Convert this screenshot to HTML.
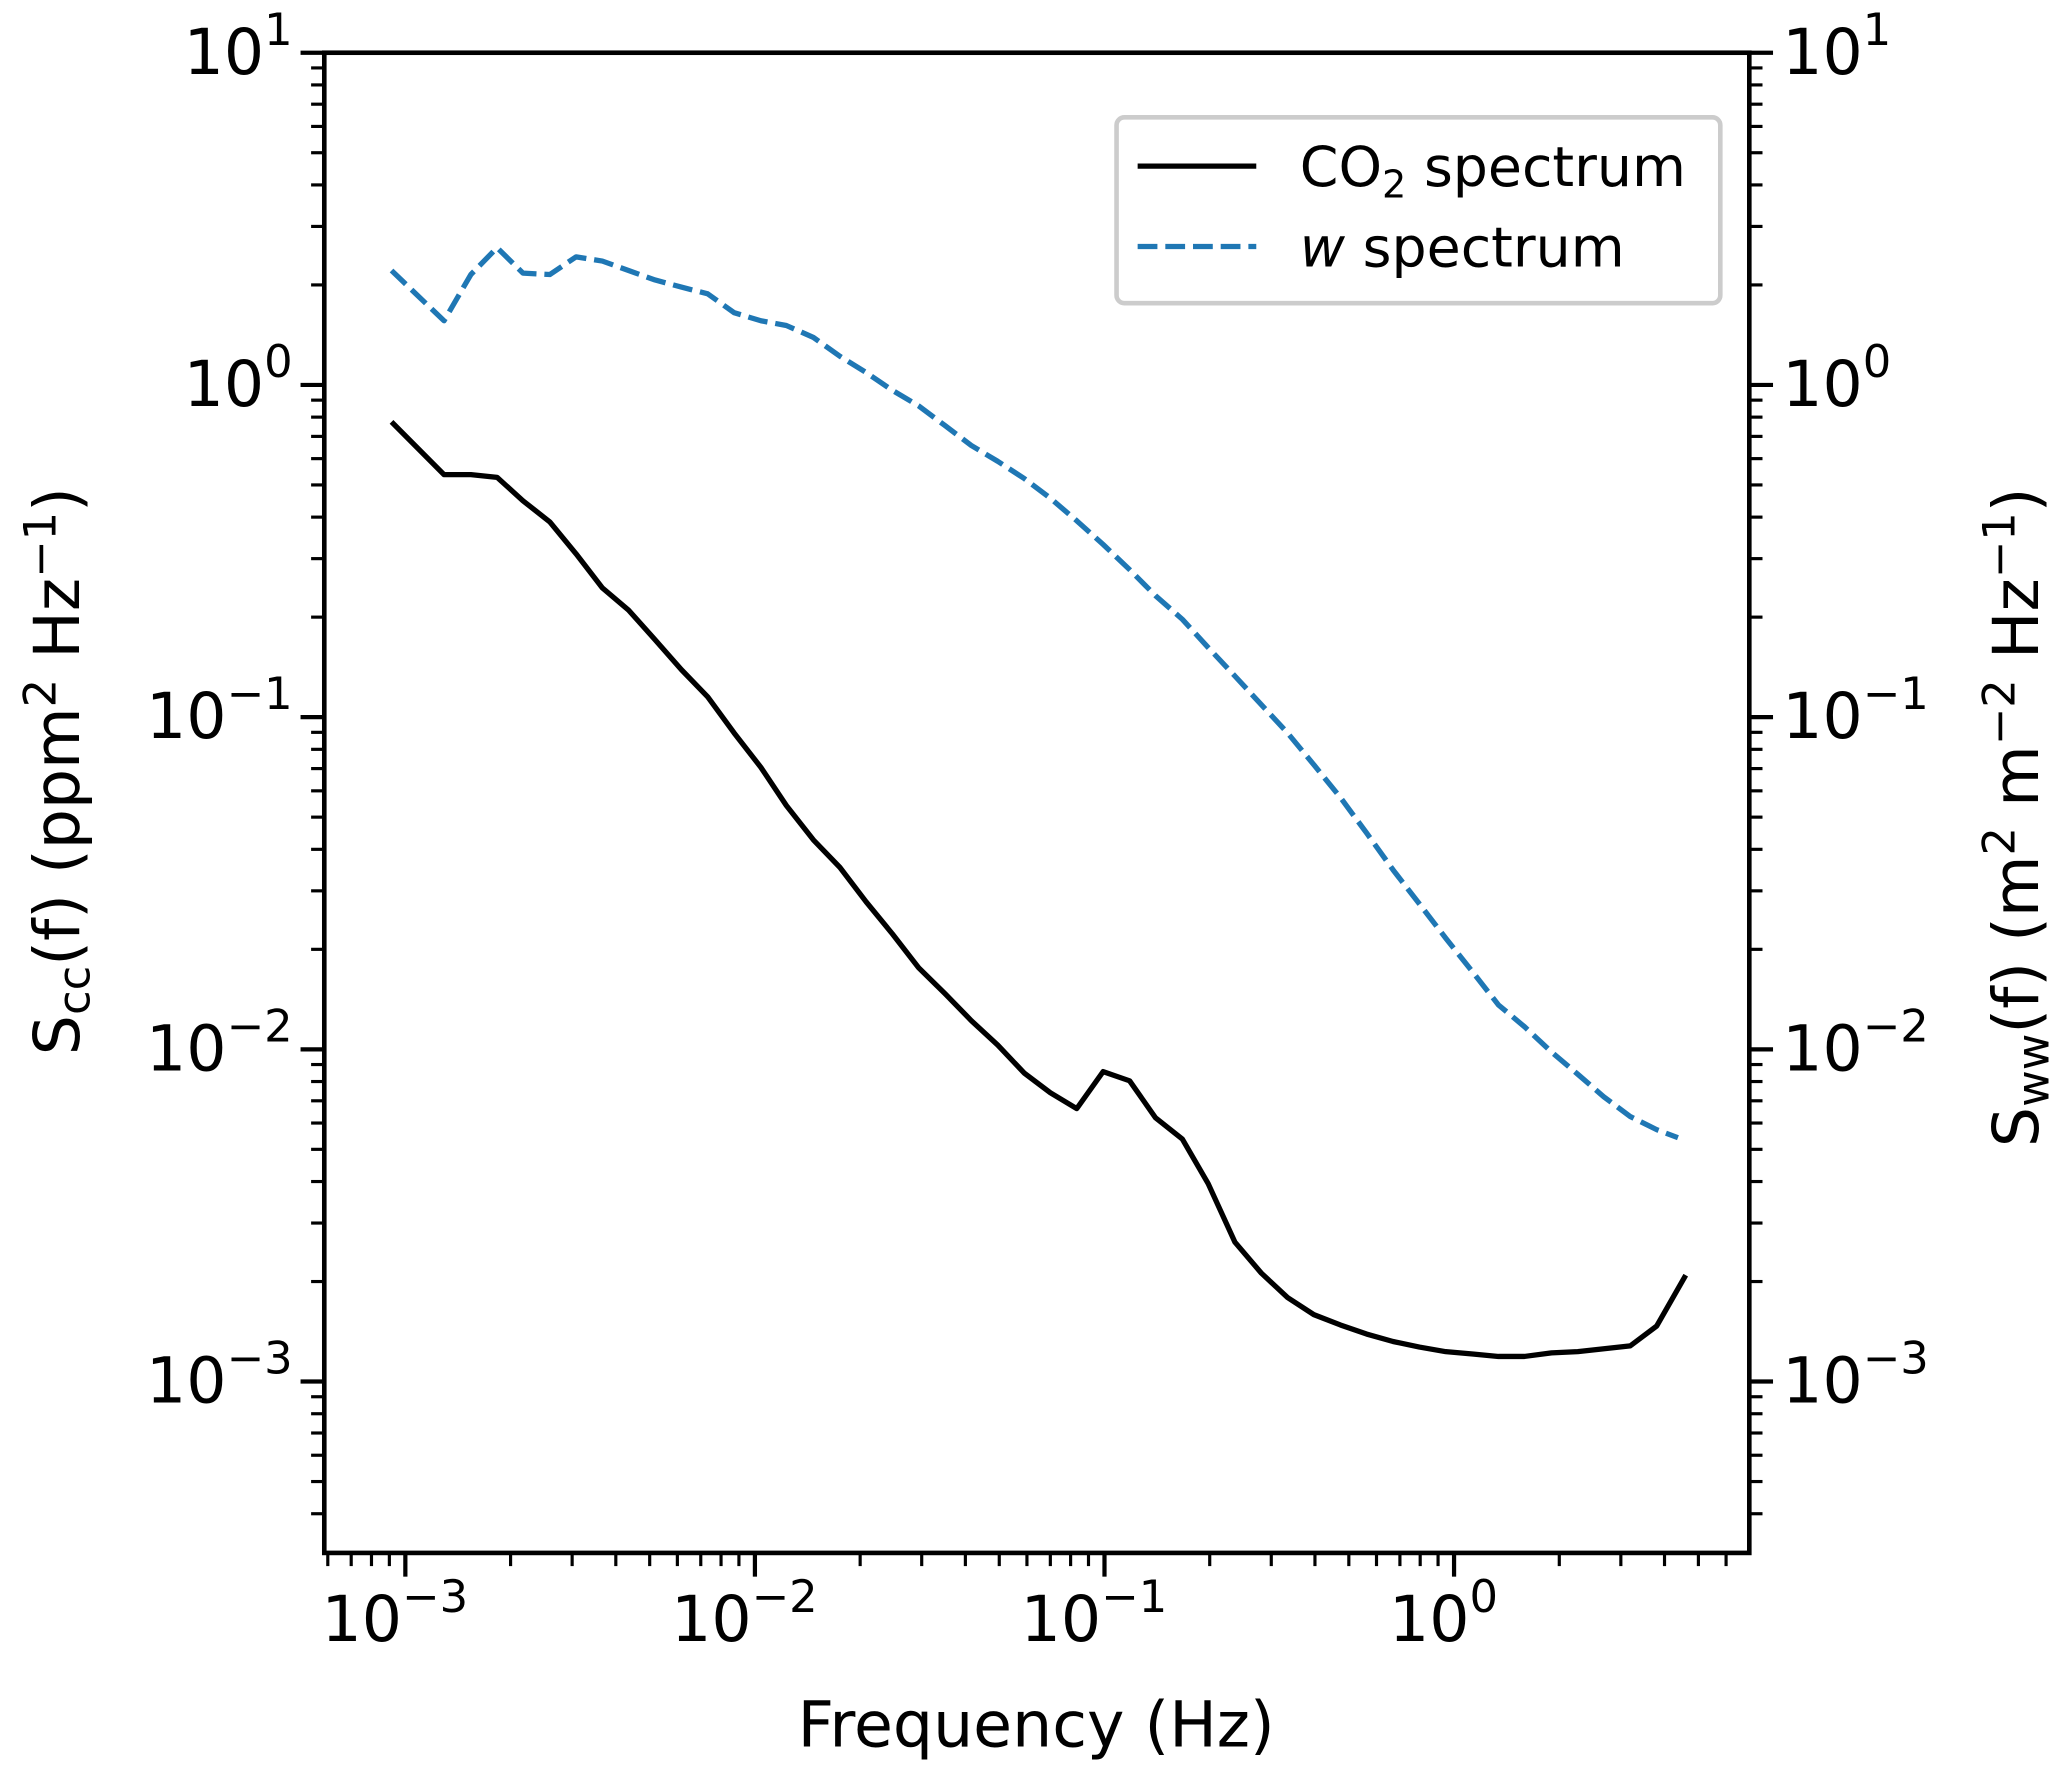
<!DOCTYPE html>
<html><head><meta charset="utf-8"><style>
html,body{margin:0;padding:0;background:#fff;}
svg{display:block;font-family:"DejaVu Sans","Liberation Sans",sans-serif;}
</style></head><body>
<svg id="chart" width="2067" height="1779" viewBox="0 0 1568 1349.5" preserveAspectRatio="none" xmlns="http://www.w3.org/2000/svg">
<rect x="0" y="0" width="1568" height="1349.5" fill="#fff"/>
<g id="plot"></g>
<g id="legend">
  <rect x="847" y="89" width="458" height="141" rx="6" fill="#fff" stroke="#ccc" stroke-width="3.5"/>
  <line x1="863" y1="126" x2="953" y2="126" stroke="#000" stroke-width="4"/>
  <text x="986" y="141" font-size="42">CO<tspan font-size="29" dy="9">2</tspan><tspan dy="-9"> spectrum</tspan></text>
  <line x1="863" y1="187" x2="953" y2="187" stroke="#1f77b4" stroke-width="4" stroke-dasharray="15,6"/>
  <text x="986" y="202" font-size="42"><tspan font-style="italic">w</tspan> spectrum</text>
</g>
<text x="786" y="1325" font-size="48" text-anchor="middle">Frequency (Hz)</text>
<text transform="translate(60,585) rotate(-90)" font-size="48" text-anchor="middle">S<tspan font-size="34" dy="8">cc</tspan><tspan dy="-8">(f) (ppm</tspan><tspan font-size="34" dy="-18">2</tspan><tspan dy="18"> Hz</tspan><tspan font-size="34" dy="-18">−1</tspan><tspan dy="18">)</tspan></text>
<text transform="translate(1546,620) rotate(-90)" font-size="48" text-anchor="middle">S<tspan font-size="34" dy="8">ww</tspan><tspan dy="-8">(f) (m</tspan><tspan font-size="34" dy="-18">2</tspan><tspan dy="18"> m</tspan><tspan font-size="34" dy="-18">−2</tspan><tspan dy="18"> Hz</tspan><tspan font-size="34" dy="-18">−1</tspan><tspan dy="18">)</tspan></text>
</svg>
<script>
const co2Freq = [0.000913,0.00129,0.00154,0.00183,0.00217,0.00259,0.00308,0.00366,0.00435,0.00518,0.00616,0.00733,0.00872,0.0104,0.0123,0.0147,0.0175,0.0208,0.0247,0.0294,0.0350,0.0416,0.0495,0.0589,0.0700,0.0833,0.0991,0.118,0.140,0.167,0.198,0.236,0.281,0.334,0.397,0.473,0.562,0.669,0.796,0.947,1.13,1.34,1.59,1.90,2.26,3.19,3.80,4.60];
const co2Values = [0.774,0.537,0.537,0.527,0.448,0.387,0.310,0.245,0.210,0.171,0.139,0.115,0.0896,0.0706,0.0542,0.0427,0.0353,0.0278,0.0223,0.0176,0.0147,0.0122,0.0103,0.00849,0.00740,0.00663,0.00857,0.00804,0.00622,0.00537,0.00394,0.00263,0.00212,0.00179,0.00159,0.00148,0.00139,0.00132,0.00127,0.00123,0.00121,0.00119,0.00119,0.00122,0.00123,0.00128,0.00147,0.00209];
const wFreq = [0.000913,0.00129,0.00154,0.00183,0.00217,0.00259,0.00308,0.00366,0.00435,0.00518,0.00616,0.00733,0.00872,0.0104,0.0123,0.0147,0.0175,0.0208,0.0247,0.0294,0.0350,0.0416,0.0495,0.0589,0.0700,0.0833,0.0991,0.118,0.140,0.167,0.198,0.236,0.281,0.334,0.397,0.473,0.562,0.669,0.796,0.947,1.13,1.34,1.59,1.90,2.26,2.68,3.19,3.80,4.37];
const wValues = [2.21,1.56,2.15,2.59,2.17,2.15,2.43,2.36,2.21,2.07,1.97,1.88,1.65,1.56,1.51,1.39,1.22,1.09,0.964,0.865,0.754,0.657,0.589,0.523,0.456,0.390,0.331,0.278,0.232,0.197,0.162,0.133,0.109,0.0896,0.0719,0.0573,0.0448,0.0347,0.0274,0.0216,0.0171,0.0136,0.0117,0.00982,0.00841,0.00720,0.00628,0.00573,0.00542];
const xTickExps = ["−3","−2","−1","0"];
const xTickValues = [0.001,0.01,0.1,1];
const yTickExps = ["1","0","−1","−2","−3"];
const yTickValues = [10,1,0.1,0.01,0.001];

const NS = "http://www.w3.org/2000/svg";
const L = 246, R = 1327, T = 40, B = 1178;
const xMinLog = -3.2319, xMaxLog = 0.8446;
const yMaxLog = 1, yMinLog = 1 - (B - T) / 252;
function xs(v){ return L + (Math.log10(v) - xMinLog) / (xMaxLog - xMinLog) * (R - L); }
function ys(v){ return T + (yMaxLog - Math.log10(v)) / (yMaxLog - yMinLog) * (B - T); }
const plot = document.getElementById('plot');
function mk(tag, attrs){ const e = document.createElementNS(NS, tag); for (const k in attrs) e.setAttribute(k, attrs[k]); plot.appendChild(e); return e; }

function series(fr, vals, color, dash, name){
  const d = fr.map((f,i)=> (i?'L':'M') + xs(f).toFixed(2) + ',' + ys(vals[i]).toFixed(2)).join(' ');
  const p = mk('path', {d:d, fill:'none', stroke:color, 'stroke-width':4, 'stroke-linejoin':'round'});
  if (dash) p.setAttribute('stroke-dasharray', dash);
  
  
}
series(co2Freq, co2Values, '#000', null, 'co2-spectrum-line');
series(wFreq, wValues, '#1f77b4', '15,6', 'w-spectrum-line');

const frame = mk('rect', {x:L, y:T, width:R-L, height:B-T, fill:'none', stroke:'#000', 'stroke-width':3.5});



for (let e = -4; e <= 1; e++){
  for (let m = 1; m <= 9; m++){
    const v = m * Math.pow(10, e);
    const lv = Math.log10(v);
    if (lv < xMinLog - 1e-6 || lv > xMaxLog + 1e-6) continue;
    const x = xs(v), len = m === 1 ? 18 : 10;
    const t = mk('line', {x1:x, y1:B, x2:x, y2:B+len, stroke:'#000', 'stroke-width': m===1?3.2:2.4});
    
    
  }
}
xTickValues.forEach((v,i)=>{
  const t = mk('text', {x:xs(v)-8, y:1245, 'font-size':48, 'text-anchor':'middle'});
  
  
  t.innerHTML = '10<tspan font-size="34" dy="-22">' + xTickExps[i] + '</tspan>';
});

for (let e = -4; e <= 1; e++){
  for (let m = 1; m <= 9; m++){
    const v = m * Math.pow(10, e);
    const lv = Math.log10(v);
    if (lv < yMinLog - 1e-6 || lv > yMaxLog + 1e-6) continue;
    const y = ys(v), len = m === 1 ? 18 : 10, sw = m===1?3.2:2.4;
    const a = mk('line', {x1:L-len, y1:y, x2:L, y2:y, stroke:'#000', 'stroke-width':sw});
    
    
    const b = mk('line', {x1:R, y1:y, x2:R+len, y2:y, stroke:'#000', 'stroke-width':sw});
    
    
  }
}
yTickValues.forEach((v,i)=>{
  const y = ys(v);
  const a = mk('text', {x:222, y:y+16, 'font-size':48, 'text-anchor':'end'});
  
  
  a.innerHTML = '10<tspan font-size="34" dy="-22">' + yTickExps[i] + '</tspan>';
  const b = mk('text', {x:1352, y:y+16, 'font-size':48, 'text-anchor':'start'});
  
  
  b.innerHTML = '10<tspan font-size="34" dy="-22">' + yTickExps[i] + '</tspan>';
});
document.getElementById('chart').appendChild(document.getElementById('legend'));
</script>
</body></html>
